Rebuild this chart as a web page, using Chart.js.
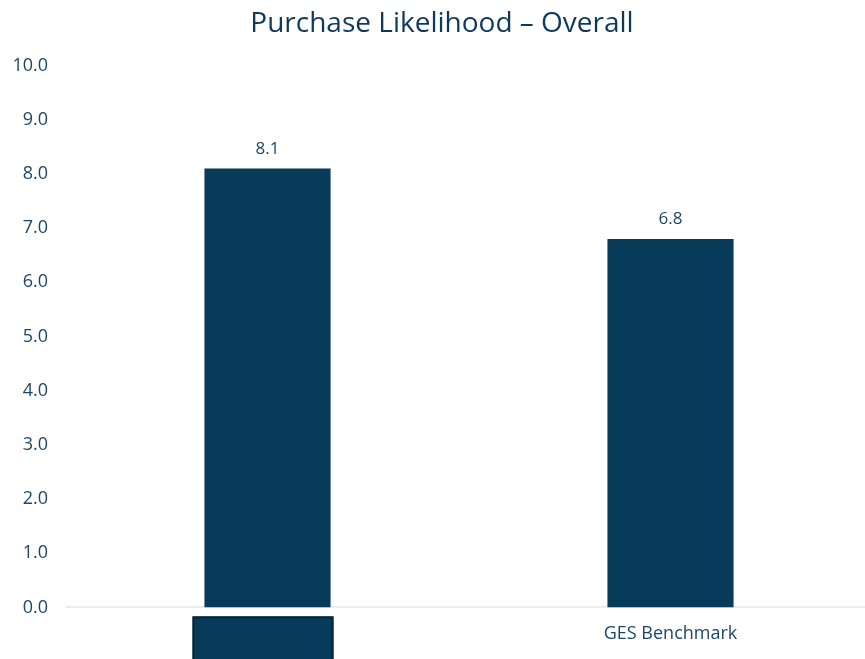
<!DOCTYPE html>
<html>
<head>
<meta charset="utf-8">
<script src="https://cdn.jsdelivr.net/npm/chart.js@4"></script>
<style>
  html, body { margin: 0; padding: 0; background: #fff; overflow: hidden; }
  #wrap { width: 872px; height: 659px; }
</style>
</head>
<body>
<div id="wrap"><canvas id="chart"></canvas></div>
<script>
const categories = ['', 'GES Benchmark'];
const scores = [8.1, 6.8];
const yTicks = [0, 1, 2, 3, 4, 5, 6, 7, 8, 9, 10];

const navy = '#083a5a';
const textColor = '#1d4766';

// value labels above the bars
const valueLabels = {
    id: 'valueLabels',
    afterDatasetsDraw(chart) {
        const ctx = chart.ctx;
        const meta = chart.getDatasetMeta(0);
        ctx.save();
        ctx.font = '17px "Open Sans"';
        ctx.fillStyle = textColor;
        ctx.textAlign = 'center';
        ctx.textBaseline = 'bottom';
        meta.data.forEach((bar, i) => {
            ctx.fillText(scores[i].toFixed(1), bar.x, bar.y - 11);
        });
        ctx.restore();
    }
};

// the first category label is covered by a dark box in the original
const hiddenLabel = {
    id: 'hiddenLabel',
    afterDraw(chart) {
        const ctx = chart.ctx;
        const x = chart.scales.x.getPixelForValue(0);
        const top = chart.chartArea.bottom + 9;
        ctx.save();
        ctx.fillStyle = navy;
        ctx.fillRect(x - 75, top, 141, 60);
        ctx.strokeStyle = '#052538';
        ctx.lineWidth = 2;
        ctx.strokeRect(x - 74, top + 1, 139, 60);
        ctx.restore();
    }
};

new Chart(document.getElementById('chart'), {
    type: 'bar',
    data: {
        labels: categories,
        datasets: [{
            data: scores,
            backgroundColor: navy,
            barPercentage: 0.313,
            categoryPercentage: 1
        }]
    },
    options: {
        responsive: true,
        maintainAspectRatio: false,
        animation: false,
        layout: { padding: { left: 12, right: 0, top: 7, bottom: -2 } },
        plugins: {
            legend: { display: false },
            tooltip: { enabled: false },
            title: {
                display: true,
                text: 'Purchase Likelihood – Overall',
                color: '#0d3a5c',
                font: { family: 'Open Sans', size: 28, weight: 'normal' },
                padding: { top: 0, bottom: 25 }
            }
        },
        scales: {
            x: {
                grid: { display: true, color: 'transparent', drawTicks: false },
                border: { display: true, color: '#e3f1f1', width: 2 },
                ticks: {
                    color: textColor,
                    font: { family: 'Open Sans', size: 18 },
                    padding: 16
                }
            },
            y: {
                min: 0,
                max: 10,
                afterBuildTicks(scale) {
                    scale.ticks = yTicks.map(v => ({ value: v }));
                },
                afterFit(scale) {
                    scale.width = 54;
                },
                grid: { display: false, drawTicks: false },
                border: { display: false },
                ticks: {
                    color: textColor,
                    font: { family: 'Open Sans', size: 18 },
                    padding: 18,
                    callback: v => Number(v).toFixed(1)
                }
            }
        }
    },
    plugins: [valueLabels, hiddenLabel]
});
</script>
</body>
</html>
